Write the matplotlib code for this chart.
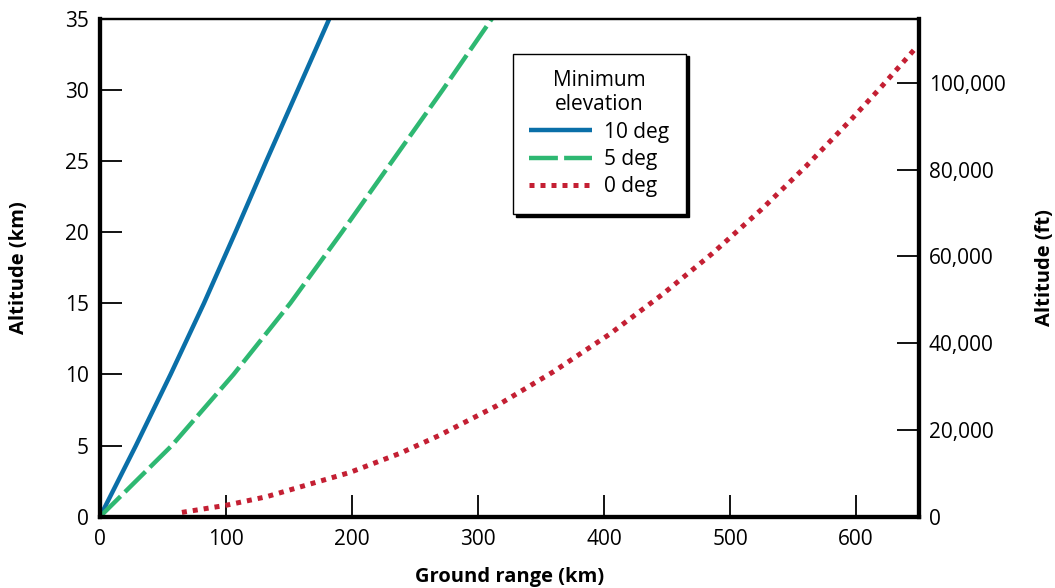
import numpy as np
import matplotlib.pyplot as plt

plt.rcParams['font.family'] = ['Open Sans', 'DejaVu Sans']

# ground range (km) and altitude (km)
range_10 = [0, 28.5, 56, 82.5, 107.5, 132, 157, 182]
alt_10 = [0, 5, 10, 15, 20, 25, 30, 35]

range_5 = [0, 57, 106, 151, 192, 232, 272, 311]
alt_5 = [0, 5, 10, 15, 20, 25, 30, 35]

range_0 = [65, 100, 132, 198, 238, 269, 315, 360, 404, 446, 486, 525, 560, 596, 620, 647]
alt_0 = [0.3, 0.8, 1.4, 3.1, 4.45, 5.7, 7.8, 10.2, 12.8, 15.6, 18.5, 21.6, 24.6, 27.9, 30.2, 32.9]

x_ticks = [0, 100, 200, 300, 400, 500, 600]
km_ticks = [0, 5, 10, 15, 20, 25, 30, 35]
ft_ticks = [0, 20000, 40000, 60000, 80000, 100000]
ft_labels = ['0', '20,000', '40,000', '60,000', '80,000', '100,000']

fig = plt.figure(figsize=(10.55, 5.88), dpi=100)
ax = fig.add_axes([0.0948, 0.1213, 0.7763, 0.8469])

l1, = ax.plot(range_10, alt_10, color='#0a6fa8', lw=3.2, solid_capstyle='butt', label='10 deg')
l2, = ax.plot(range_5, alt_5, color='#2eb872', lw=3.2, dashes=(6.5, 1.4), label='5 deg')
l3, = ax.plot(range_0, alt_0, color='#c41f33', lw=3.6, dashes=(1.0, 1.2), label='0 deg')

ax.set_xlim(0, 650)
ax.set_ylim(0, 35)
ax.set_xticks(x_ticks)
ax.set_yticks(km_ticks)

# right axis in feet
ax2 = ax.twinx()
ax2.set_ylim(0, 35 / 0.0003048)
ax2.set_yticks(ft_ticks)
ax2.set_yticklabels(ft_labels)

for a in (ax, ax2):
    for side in ('left', 'right', 'bottom'):
        a.spines[side].set_linewidth(3)
    a.spines['top'].set_linewidth(1.6)
    a.tick_params(direction='in', length=16, width=1.3, labelsize=15, pad=8)

ax.tick_params(axis='x', pad=9)
ax2.tick_params(pad=7)

ax.set_xlabel('Ground range (km)', fontsize=14.5, fontweight='bold')
ax.xaxis.set_label_coords(0.5, -0.101)
ax.set_ylabel('Altitude (km)', fontsize=14.5, fontweight='bold')
ax.yaxis.set_label_coords(-0.087, 0.5)
ax2.set_ylabel('Altitude (ft)', fontsize=14.5, fontweight='bold')
ax2.yaxis.set_label_coords(1.142, 0.5)

leg = ax2.legend(handles=[l1, l2, l3], title='Minimum\nelevation', fontsize=15,
                 title_fontsize=15, loc='upper left', bbox_to_anchor=(0.504, 0.93),
                 borderaxespad=0, handlelength=3.0, handletextpad=0.6,
                 fancybox=False, framealpha=1, edgecolor='black',
                 shadow={'color': 'black', 'alpha': 1}, labelspacing=0.3,
                 borderpad=0.8)
leg.get_frame().set_linewidth(1.0)
leg.get_title().set_multialignment('center')

fig.savefig('out.png', dpi=100)
